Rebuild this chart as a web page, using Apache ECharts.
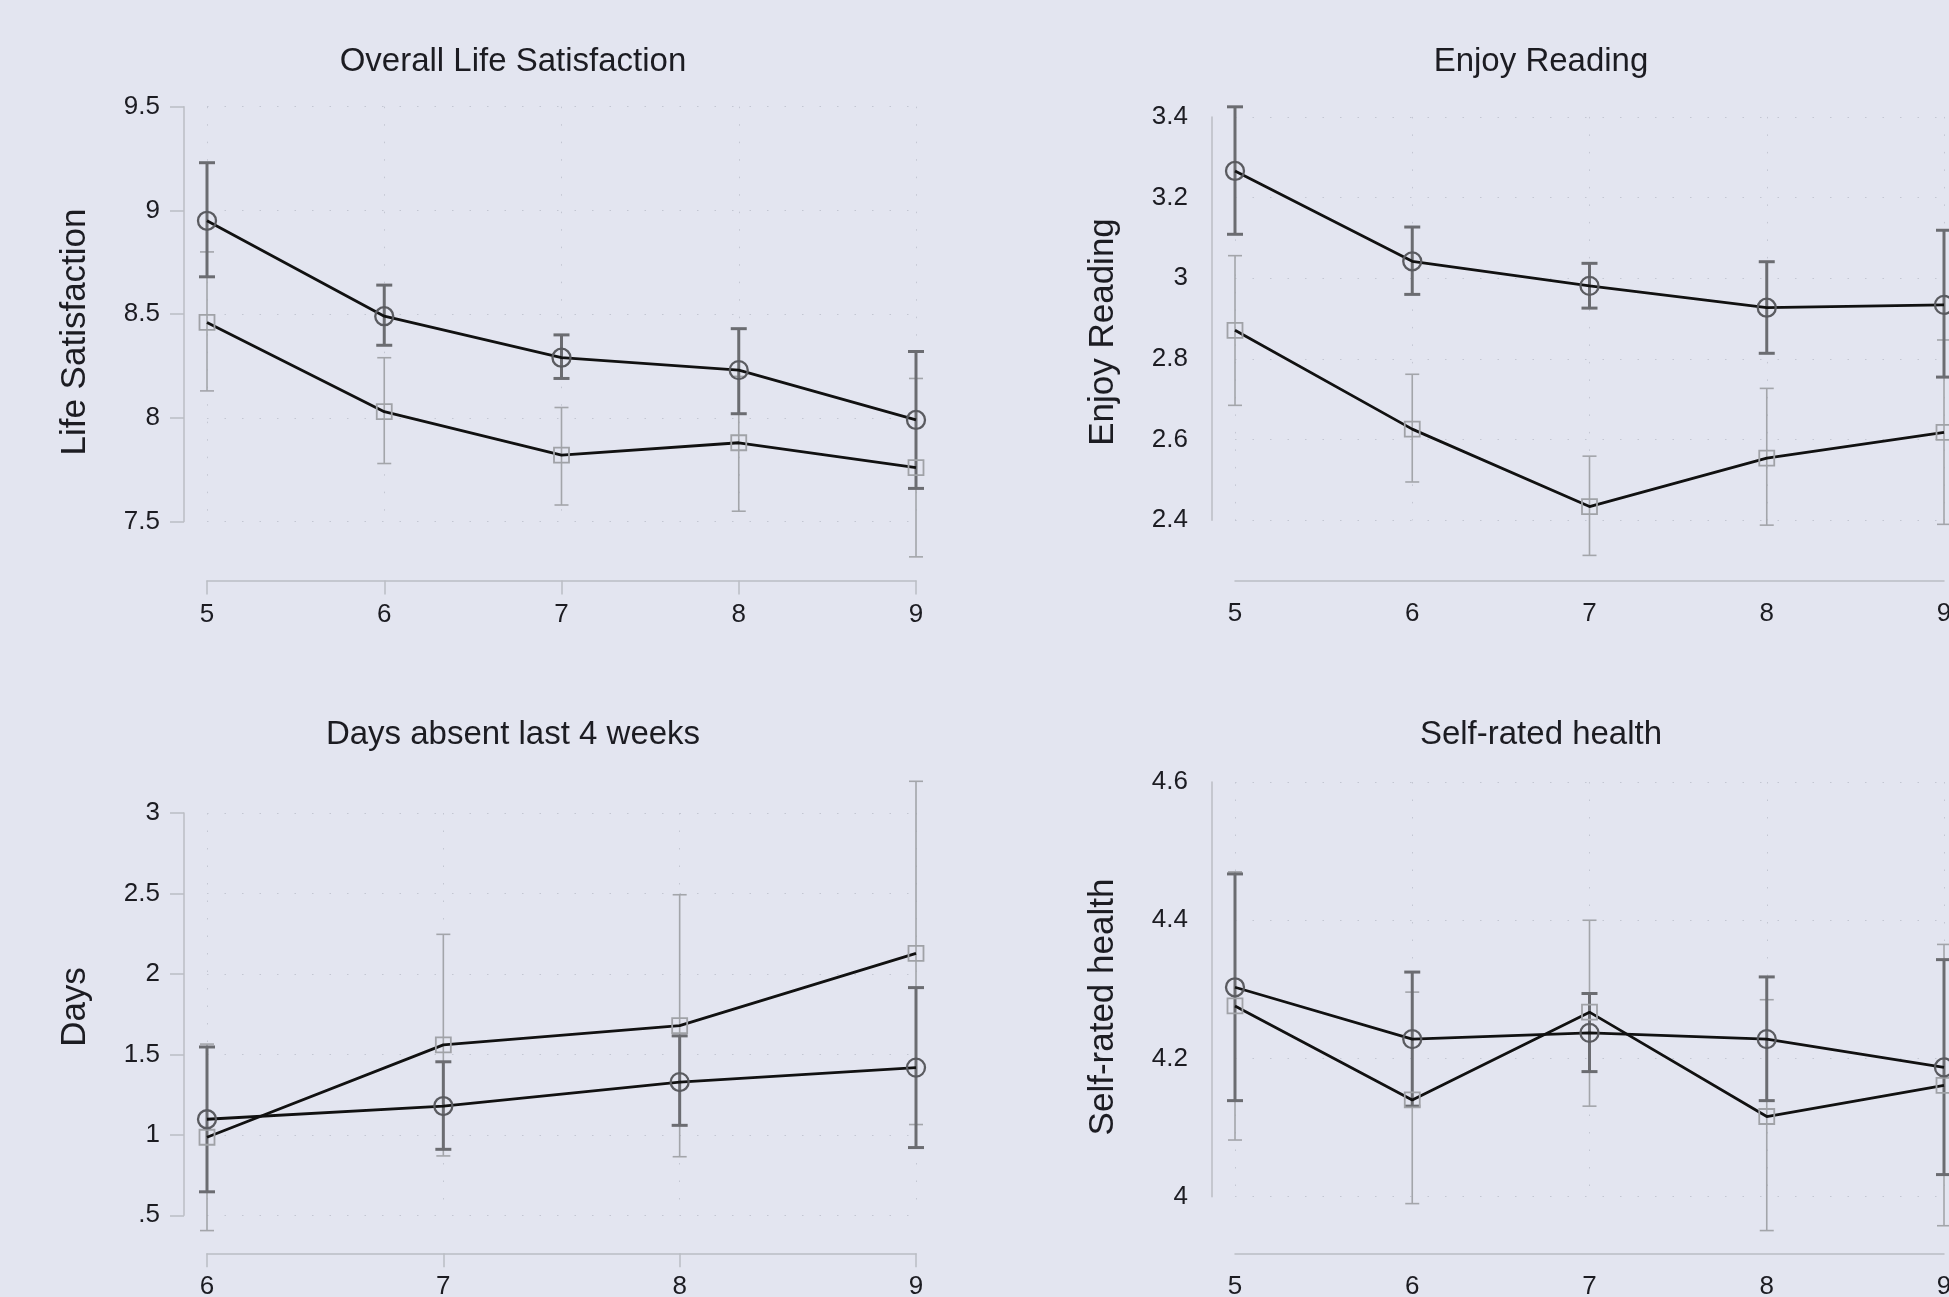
<!DOCTYPE html>
<html>
<head>
<meta charset="utf-8">
<script src="https://cdn.jsdelivr.net/npm/echarts@6/dist/echarts.min.js"></script>
<style>
html,body{margin:0;padding:0;background:#e3e5f0;}
#c{width:1949px;height:1297px;}
</style>
</head>
<body>
<div id="c"></div>
<script>
// ---------- data ----------
const agesA = [5, 6, 7, 8, 9];
const agesB = [6, 7, 8, 9];

const panelTitles = ['Overall Life Satisfaction', 'Enjoy Reading', 'Days absent last 4 weeks', 'Self-rated health'];
const yTitles = ['Life Satisfaction', 'Enjoy Reading', 'Days', 'Self-rated health'];

// Overall life satisfaction
const lifeCircle   = [8.95, 8.49, 8.29, 8.23, 7.99];
const lifeCircleLo = [8.68, 8.35, 8.19, 8.02, 7.66];
const lifeCircleHi = [9.23, 8.64, 8.40, 8.43, 8.32];
const lifeSquare   = [8.46, 8.03, 7.82, 7.88, 7.76];
const lifeSquareLo = [8.13, 7.78, 7.58, 7.55, 7.33];
const lifeSquareHi = [8.80, 8.29, 8.05, 8.20, 8.19];

// Enjoy reading
const readCircle   = [3.266, 3.042, 2.981, 2.927, 2.934];
const readCircleLo = [3.109, 2.960, 2.926, 2.814, 2.755];
const readCircleHi = [3.425, 3.127, 3.037, 3.041, 3.119];
const readSquare   = [2.871, 2.626, 2.434, 2.554, 2.618];
const readSquareLo = [2.685, 2.495, 2.313, 2.388, 2.390];
const readSquareHi = [3.056, 2.762, 2.559, 2.727, 2.847];

// Days absent
const daysCircle   = [1.097, 1.179, 1.328, 1.418];
const daysCircleLo = [0.646, 0.910, 1.059, 0.921];
const daysCircleHi = [1.546, 1.454, 1.615, 1.915];
const daysSquare   = [0.985, 1.559, 1.679, 2.128];
const daysSquareLo = [0.405, 0.869, 0.864, 1.064];
const daysSquareHi = [1.564, 2.246, 2.492, 3.197];

// Self-rated health
const healthCircle   = [4.303, 4.228, 4.237, 4.228, 4.187];
const healthCircleLo = [4.139, 4.131, 4.181, 4.139, 4.032];
const healthCircleHi = [4.467, 4.325, 4.294, 4.318, 4.343];
const healthSquare   = [4.276, 4.140, 4.267, 4.116, 4.161];
const healthSquareLo = [4.082, 3.990, 4.131, 3.951, 3.958];
const healthSquareHi = [4.470, 4.296, 4.400, 4.285, 4.365];

// y tick ranges
const yMin = [7.5, 2.4, 0.5, 4.0];
const yMax = [9.5, 3.4, 3.0, 4.6];
const yStep = [0.5, 0.2, 0.5, 0.2];

// ---------- layout ----------
const FONT = '"Liberation Sans", Arial, Helvetica, sans-serif';
const TXT = '#1c1c22';
const AXC = '#bbbdc4';
const layout = [
  {left: 207,  top: 106.7, width: 709, height: 414.9, xoff: 58.8, ticks: true,  tx: 513,  ty: 62,  nx: 75,   ny: 332},
  {left: 1235, top: 116.9, width: 709, height: 403.4, xoff: 60,   ticks: false, tx: 1541, ty: 62,  nx: 1103, ny: 332},
  {left: 207,  top: 813,   width: 709, height: 402.3, xoff: 38,   ticks: true,  tx: 513,  ty: 735, nx: 75,   ny: 1007},
  {left: 1235, top: 782,   width: 709, height: 414.7, xoff: 56.6, ticks: false, tx: 1541, ty: 735, nx: 1103, ny: 1007}
];

const groups = [
  {ages: agesA, c: lifeCircle, cl: lifeCircleLo, ch: lifeCircleHi, s: lifeSquare, sl: lifeSquareLo, sh: lifeSquareHi},
  {ages: agesA, c: readCircle, cl: readCircleLo, ch: readCircleHi, s: readSquare, sl: readSquareLo, sh: readSquareHi},
  {ages: agesB, c: daysCircle, cl: daysCircleLo, ch: daysCircleHi, s: daysSquare, sl: daysSquareLo, sh: daysSquareHi},
  {ages: agesA, c: healthCircle, cl: healthCircleLo, ch: healthCircleHi, s: healthSquare, sl: healthSquareLo, sh: healthSquareHi}
];

function fmt(v) {
  let s = String(+v.toFixed(2));
  if (s.startsWith('0.')) s = s.slice(1);
  return s;
}

function errRender(capHalf, color, w) {
  return function (params, api) {
    const x = api.value(0), lo = api.value(1), hi = api.value(2);
    const a = api.coord([x, lo]), b = api.coord([x, hi]);
    const st = {stroke: color, lineWidth: w};
    return {type: 'group', children: [
      {type: 'line', shape: {x1: a[0], y1: a[1], x2: b[0], y2: b[1]}, style: st},
      {type: 'line', shape: {x1: a[0] - capHalf, y1: a[1], x2: a[0] + capHalf, y2: a[1]}, style: st},
      {type: 'line', shape: {x1: b[0] - capHalf, y1: b[1], x2: b[0] + capHalf, y2: b[1]}, style: st}
    ]};
  };
}

const grid = [], xAxis = [], yAxis = [], series = [], graphic = [];
const dotted = {color: '#c3c6d2', width: 1, type: [1.5, 16]};

layout.forEach((L, i) => {
  const g = groups[i];
  grid.push({left: L.left, top: L.top, width: L.width, height: L.height, containLabel: false, outerBoundsMode: 'none'});
  xAxis.push({
    type: 'value', gridIndex: i, min: g.ages[0], max: g.ages[g.ages.length - 1], interval: 1,
    offset: L.xoff,
    axisLine: {show: true, lineStyle: {color: AXC, width: 1.5}},
    axisTick: {show: L.ticks, length: 14, lineStyle: {color: AXC, width: 1.5}},
    axisLabel: {margin: 21, fontSize: 26, fontFamily: FONT, color: TXT},
    splitLine: {show: true, lineStyle: dotted}
  });
  yAxis.push({
    type: 'value', gridIndex: i, min: yMin[i], max: yMax[i], interval: yStep[i],
    offset: 23,
    axisLine: {show: true, lineStyle: {color: AXC, width: 1.5}},
    axisTick: {show: L.ticks, length: 14, lineStyle: {color: AXC, width: 1.5}},
    axisLabel: {margin: 24, fontSize: 26, fontFamily: FONT, color: TXT, formatter: fmt},
    splitLine: {show: true, lineStyle: dotted}
  });
  const sqErr = g.ages.map((a, k) => [a, g.sl[k], g.sh[k]]);
  const ciErr = g.ages.map((a, k) => [a, g.cl[k], g.ch[k]]);
  series.push({
    type: 'custom', xAxisIndex: i, yAxisIndex: i, z: 2, clip: false, silent: true,
    renderItem: errRender(7, '#a3a5aa', 1.6), data: sqErr, encode: {x: 0, y: [1, 2]}
  });
  series.push({
    type: 'custom', xAxisIndex: i, yAxisIndex: i, z: 3, clip: false, silent: true,
    renderItem: errRender(8, '#6b6c71', 3), data: ciErr, encode: {x: 0, y: [1, 2]}
  });
  series.push({
    type: 'line', xAxisIndex: i, yAxisIndex: i, z: 4, clip: false, silent: true,
    data: g.ages.map((a, k) => [a, g.s[k]]),
    symbol: 'rect', symbolSize: 15,
    itemStyle: {color: 'rgba(0,0,0,0)', borderColor: '#a0a2a7', borderWidth: 1.8},
    lineStyle: {color: '#111', width: 2.8}
  });
  series.push({
    type: 'line', xAxisIndex: i, yAxisIndex: i, z: 5, clip: false, silent: true,
    data: g.ages.map((a, k) => [a, g.c[k]]),
    symbol: 'circle', symbolSize: 18,
    itemStyle: {color: 'rgba(0,0,0,0)', borderColor: '#5a5b60', borderWidth: 2.3},
    lineStyle: {color: '#111', width: 2.8}
  });
  graphic.push({
    type: 'text', x: L.tx, y: L.ty, silent: true,
    style: {text: panelTitles[i], fontSize: 33, fontFamily: FONT, fill: TXT, align: 'center', verticalAlign: 'middle'}
  });
  graphic.push({
    type: 'text', x: L.nx, y: L.ny, rotation: Math.PI / 2, silent: true,
    style: {text: yTitles[i], fontSize: 35, fontFamily: FONT, fill: TXT, align: 'center', verticalAlign: 'middle'}
  });
});

const chart = echarts.init(document.getElementById('c'), null, {renderer: 'canvas'});
chart.setOption({
  backgroundColor: '#e3e5f0',
  animation: false,
  grid, xAxis, yAxis, series, graphic
});
</script>
</body>
</html>
